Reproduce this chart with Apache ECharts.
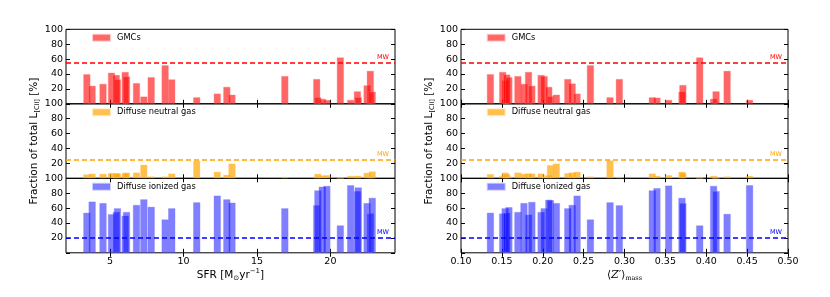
<!DOCTYPE html>
<html><head><meta charset="utf-8">
<script src="https://cdn.jsdelivr.net/npm/echarts@6/dist/echarts.min.js"></script>
<style>html,body{margin:0;padding:0;background:#fff}#c{width:830px;height:297px}</style>
</head><body><div id="c"></div>
<script>
// ---- data ----
const componentNames = ['GMCs', 'Diffuse neutral gas', 'Diffuse ionized gas'];
const mwLevels = [55, 25, 20];
const yTicks = [20, 40, 60, 80, 100];
const sfrTicks = [5, 10, 15, 20];
const zTicks = [0.10, 0.15, 0.20, 0.25, 0.30, 0.35, 0.40, 0.45, 0.50];

const sfr    = [3.42, 3.78, 4.52, 5.1, 5.42, 5.5, 6.03, 6.12, 6.8, 7.3, 7.8, 8.75, 9.2, 10.9, 12.3, 12.95, 13.3, 16.9, 19.07, 19.15, 19.45, 19.76, 20.68, 21.38, 21.84, 21.9, 22.5, 22.72, 22.85];
const sfrGMC = [40, 24.5, 27, 42, 39, 33, 43, 37, 28, 10, 36, 52, 33, 9, 14, 23, 12.5, 37.5, 33.5, 9, 7, 5.5, 62.5, 5.5, 17, 9, 25, 44.5, 16.5];
const sfrDNG = [5.5, 6.5, 6.3, 7.5, 7, 7, 7, 8, 8, 18.5, 2.7, 2.7, 6.7, 24, 9, 5, 20, 2.2, 2.5, 6.3, 4, 4.5, 0.5, 3.6, 3.6, 3, 7.7, 2.5, 9.5];
const sfrDIG = [54, 69, 67, 52, 55, 60, 50, 55, 64.5, 72, 62, 45, 60, 68, 77, 72, 67.5, 60, 64, 84, 89, 90, 37, 91, 83, 88, 67, 53, 74];

const zmass = [0.136, 0.151, 0.154, 0.156, 0.1586, 0.1696, 0.177, 0.1826, 0.1867, 0.198, 0.2017, 0.2074, 0.2094, 0.2167, 0.2306, 0.236, 0.242, 0.2583, 0.2823, 0.2937, 0.334, 0.3397, 0.354, 0.3703, 0.3714, 0.392, 0.409, 0.412, 0.4255, 0.453];
const zGMC  = [40, 43, 32, 39.5, 36, 37.5, 27, 43, 24.5, 39, 37.5, 23, 10.5, 12.5, 33.5, 27.5, 14, 52, 9, 33.5, 9, 8.5, 5.5, 16.5, 25.5, 62.5, 7, 17, 44.5, 5.5];
const zDNG  = [5.9, 3.6, 8, 6, 2.5, 8, 6.3, 6.7, 6.7, 6.7, 2.5, 4.5, 18, 20, 7.2, 8, 9, 2.7, 24.3, 2.2, 6.7, 3.6, 4.5, 9, 7.5, 0.5, 3.6, 0.5, 2.7, 3.6];
const zDIG  = [54, 53, 60, 54, 61.5, 55, 67, 51.5, 68.5, 55, 60, 71.5, 71, 67, 60, 64.5, 77, 45, 68, 64, 84, 87, 90.5, 74, 67, 37, 90, 83, 52.5, 91];

// ---- styling / layout ----
const FONT = 'DejaVu Sans';
const fills = ['rgba(255,0,0,0.6)', 'rgba(255,165,0,0.7)', 'rgba(0,0,255,0.5)'];
const edges = ['rgba(255,120,120,0.35)', 'rgba(255,200,100,0.35)', 'rgba(120,120,255,0.35)'];
const lineColors = ['#ff0000', '#ffa500', '#0000ff'];
const rowTops = [29.3, 103.8, 178.3];
const rowH = 74.5;

const panels = [
  { xs: sfr, ys: [sfrGMC, sfrDNG, sfrDIG], left: 66, width: 329, min: 2, max: 24.4, ticks: sfrTicks,
    fmt: v => String(v), legendLeft: 92,
    xName: 'SFR [M{s|⊙}yr{p|−1}]',
    xRich: { s: { fontSize: 7, fontFamily: FONT, verticalAlign: 'bottom', lineHeight: 10, padding: [4,0,0,0] },
             p: { fontSize: 7, fontFamily: FONT, verticalAlign: 'top', lineHeight: 10 } } },
  { xs: zmass, ys: [zGMC, zDNG, zDIG], left: 461, width: 327, min: 0.1, max: 0.5, ticks: zTicks,
    fmt: v => v.toFixed(2), legendLeft: 486.7,
    xName: '⟨{z|Z′}⟩{s|mass}',
    xRich: { z: { fontSize: 11, fontFamily: 'DejaVu Serif', fontStyle: 'italic' },
             s: { fontSize: 6.5, fontFamily: 'DejaVu Serif', verticalAlign: 'bottom', lineHeight: 10, padding: [5,0,0,0] } } }
];

const grid = [], xAxis = [], yAxis = [], series = [], legend = [];
panels.forEach((P, p) => {
  for (let r = 0; r < 3; r++) {
    const g = p * 3 + r;
    grid.push({ left: P.left, top: rowTops[r], width: P.width, height: rowH, show: true,
      borderColor: '#000', borderWidth: 1, backgroundColor: 'transparent' });
    const tickCommon = { show: true, inside: true, length: 4, customValues: P.ticks, lineStyle: { color: '#000', width: 1 } };
    const bx = { type: 'value', gridIndex: g, position: 'bottom', min: P.min, max: P.max,
      axisLine: { show: false }, splitLine: { show: false }, axisTick: tickCommon,
      axisLabel: { show: r === 2, customValues: P.ticks, formatter: P.fmt, fontSize: 9.5, color: '#000', fontFamily: FONT, margin: 4 } };
    if (r === 2) {
      bx.name = P.xName; bx.nameLocation = 'middle'; bx.nameGap = 15;
      bx.nameTextStyle = { fontSize: 10.5, color: '#000', fontFamily: FONT, lineHeight: 14, rich: P.xRich };
    }
    xAxis.push(bx);
    xAxis.push({ type: 'value', gridIndex: g, position: 'top', min: P.min, max: P.max,
      axisLine: { show: false }, splitLine: { show: false }, axisTick: tickCommon, axisLabel: { show: false } });
    const ly = { type: 'value', gridIndex: g, position: 'left', min: 0, max: 100, interval: 20,
      axisLine: { show: false }, splitLine: { show: false },
      axisTick: { show: true, inside: true, length: 4, lineStyle: { color: '#000' } },
      axisLabel: { formatter: v => (v === 0 ? '' : String(v)), fontSize: 9.5, color: '#000', fontFamily: FONT, margin: 3 } };
    if (r === 1) {
      ly.name = 'Fraction of total L{s|[CII]} [%]';
      ly.nameLocation = 'middle'; ly.nameRotate = 90; ly.nameGap = 25;
      ly.nameTextStyle = { fontSize: 10.5, color: '#000', fontFamily: FONT, lineHeight: 14,
        rich: { s: { fontSize: 6.5, fontFamily: FONT, verticalAlign: 'bottom', lineHeight: 10, padding: [4,0,0,0] } } };
    }
    yAxis.push(ly);
    yAxis.push({ type: 'value', gridIndex: g, position: 'right', min: 0, max: 100, interval: 20,
      axisLine: { show: false }, splitLine: { show: false },
      axisTick: { show: true, inside: true, length: 4, lineStyle: { color: '#000' } }, axisLabel: { show: false } });

    series.push({
      type: 'bar', name: componentNames[r], xAxisIndex: 2 * g, yAxisIndex: 2 * g,
      barWidth: 7.5, barGap: '-100%',
      data: P.xs.map((x, i) => [x, P.ys[r][i]]),
      itemStyle: { color: fills[r], borderColor: edges[r], borderWidth: 1 },
      emphasis: { disabled: true },
      markLine: {
        silent: true, symbol: ['none', 'none'], animation: false,
        data: [{ yAxis: mwLevels[r] }],
        lineStyle: { type: [5, 3], width: 1.5, color: lineColors[r] },
        label: { show: true, formatter: 'MW', position: 'insideEndTop', fontSize: 6.5, color: lineColors[r], fontFamily: FONT, distance: [6, 2] }
      }
    });
    legend.push({ data: [componentNames[r]], left: P.legendLeft, top: rowTops[r] + 4.4,
      icon: 'rect', itemWidth: 17, itemHeight: 6, padding: 0, selectedMode: false,
      textStyle: { fontSize: 8.3, color: '#000', fontFamily: FONT, padding: [0, 0, 0, 2] } });
  }
});

const chart = echarts.init(document.getElementById('c'), null, { renderer: 'canvas' });
chart.setOption({ animation: false, backgroundColor: '#fff', textStyle: { fontFamily: FONT },
  grid, xAxis, yAxis, series, legend });
</script></body></html>
